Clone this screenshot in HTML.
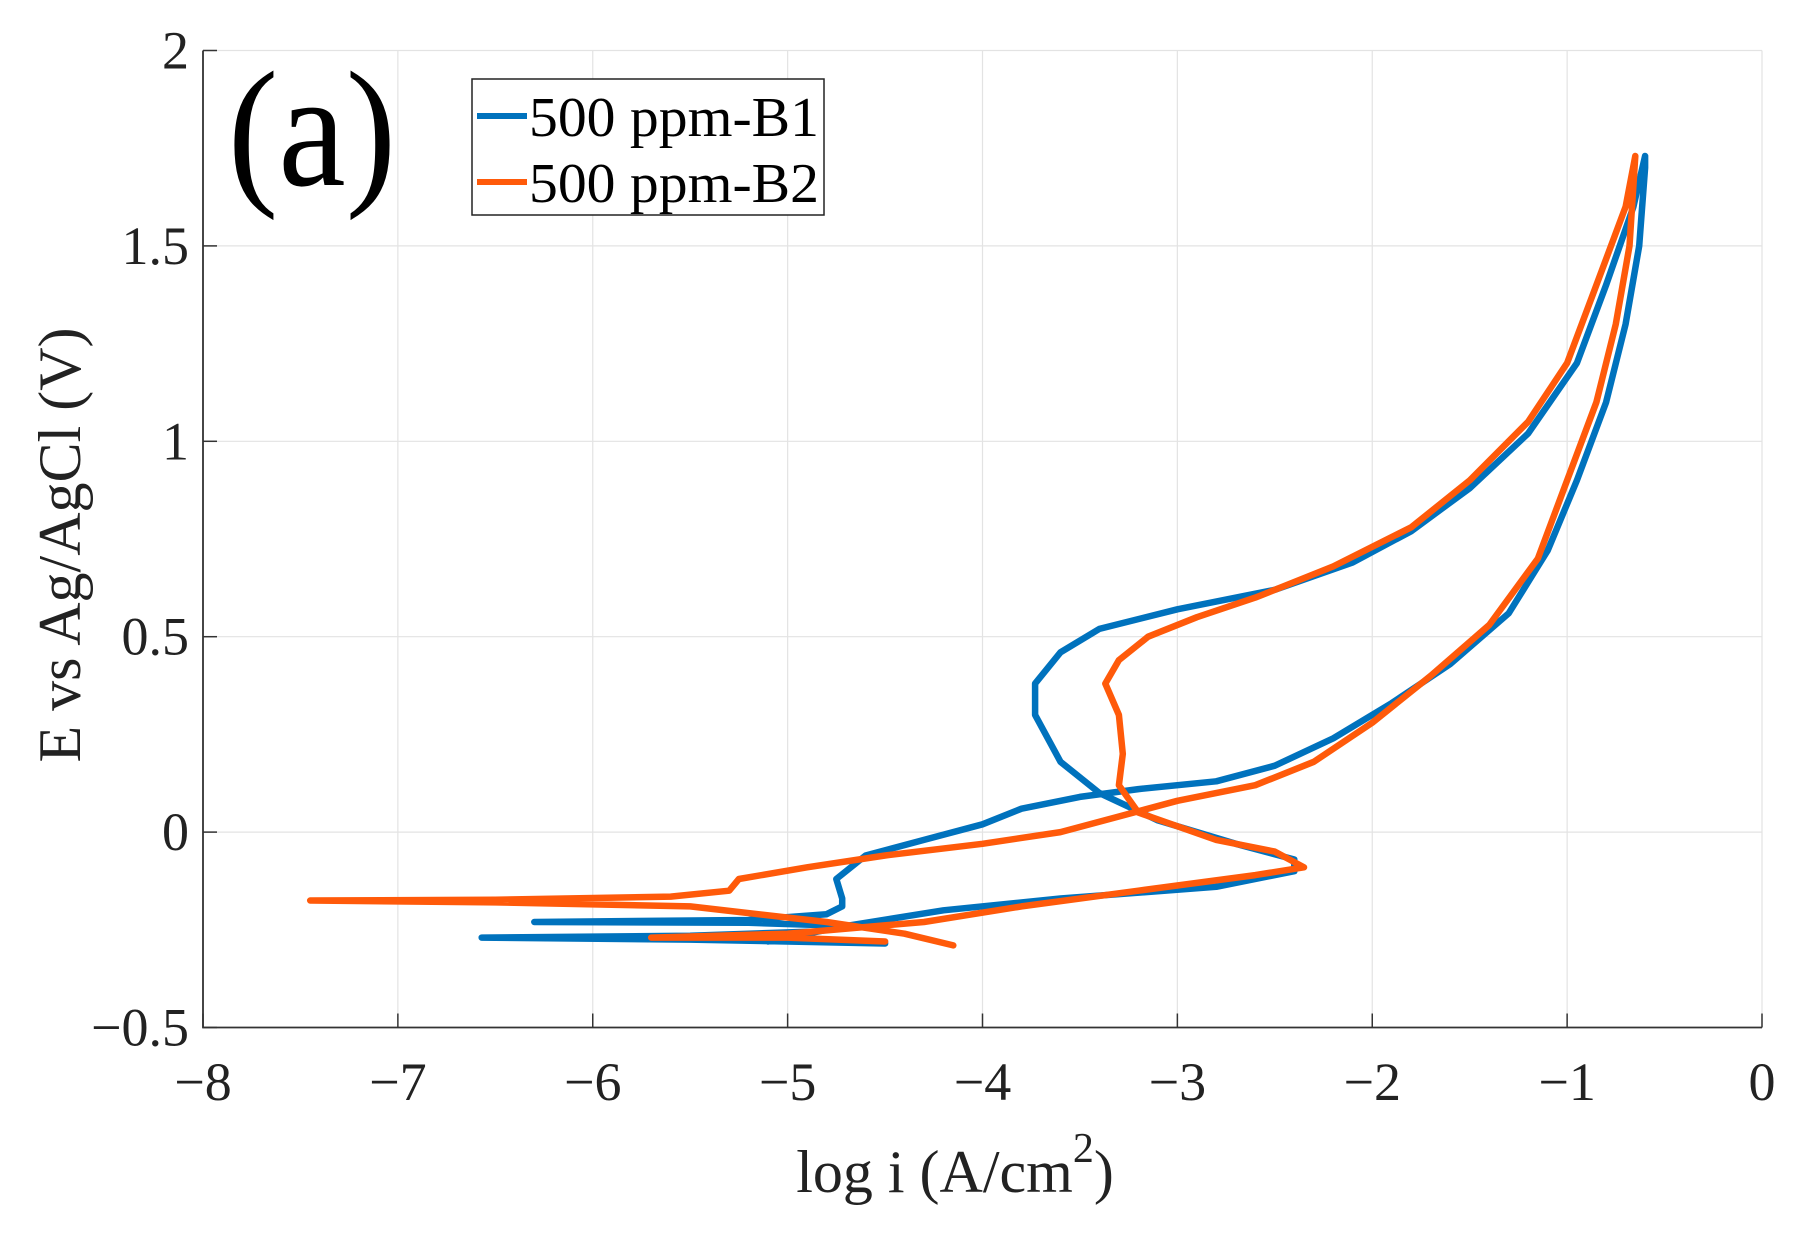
<!DOCTYPE html>
<html><head><meta charset="utf-8"><style>
html,body{margin:0;padding:0;background:#fff;}
svg{display:block;font-family:"Liberation Serif",serif;}
</style></head><body>
<svg id="chart" width="1800" height="1236" viewBox="0 0 1800 1236">
<g id="grid"></g>
<g id="series"></g>
<g id="axes"></g>
<text x="312" y="185" font-size="165" text-anchor="middle" fill="#000" transform="translate(312,0) scale(0.92,1) translate(-312,0)">(a)</text>
<g>
<rect x="472" y="79" width="352" height="136" fill="#fff" stroke="#222" stroke-width="1.5"/>
<line x1="477" y1="116" x2="527" y2="116" stroke="#0072BD" stroke-width="6"/>
<text x="529" y="136" font-size="56" fill="#000" textLength="290" lengthAdjust="spacingAndGlyphs">500 ppm-B1</text>
<line x1="477" y1="182" x2="527" y2="182" stroke="#FF5a0a" stroke-width="6"/>
<text x="529" y="202" font-size="56" fill="#000" textLength="290" lengthAdjust="spacingAndGlyphs">500 ppm-B2</text>
</g>
<text x="955" y="1192" font-size="60" text-anchor="middle" fill="#222">log i (A/cm<tspan font-size="42" dy="-30">2</tspan><tspan dy="30">)</tspan></text>
<text transform="translate(80,545) rotate(-90)" font-size="60" text-anchor="middle" fill="#222">E vs Ag/AgCl (V)</text>
</svg>
<script>
const xTicks=[-8,-7,-6,-5,-4,-3,-2,-1,0];
const yTicks=[-0.5,0,0.5,1,1.5,2];
const xTickLabels=["\u22128","\u22127","\u22126","\u22125","\u22124","\u22123","\u22122","\u22121","0"];
const yTickLabels=["\u22120.5","0","0.5","1","1.5","2"];
const b1LogI=[-4.5,-5.5,-6.57,-5.5,-4.9,-4.7,-5.2,-6.3,-5.2,-4.8,-4.72,-4.72,-4.75,-4.6,-4.3,-4.0,-3.8,-3.5,-3.2,-2.8,-2.5,-2.2,-1.9,-1.6,-1.3,-1.1,-0.95,-0.8,-0.7,-0.63,-0.6,-0.6,-0.66,-0.8,-0.95,-1.2,-1.5,-1.8,-2.1,-2.5,-3.0,-3.4,-3.6,-3.73,-3.73,-3.6,-3.4,-3.1,-2.7,-2.4,-2.4,-2.8,-3.6,-4.2,-4.7,-5.0,-5.1];
const b1E=[-0.285,-0.275,-0.27,-0.265,-0.255,-0.24,-0.232,-0.23,-0.225,-0.21,-0.19,-0.17,-0.12,-0.06,-0.02,0.02,0.06,0.09,0.11,0.13,0.17,0.24,0.33,0.43,0.56,0.72,0.9,1.1,1.3,1.5,1.7,1.73,1.6,1.4,1.2,1.02,0.88,0.77,0.69,0.62,0.57,0.52,0.46,0.38,0.3,0.18,0.1,0.03,-0.03,-0.07,-0.1,-0.14,-0.17,-0.2,-0.24,-0.27,-0.28];
const b2LogI=[-4.15,-4.4,-4.8,-5.5,-6.5,-7.45,-6.5,-5.6,-5.3,-5.25,-4.9,-4.5,-4.0,-3.6,-3.3,-3.0,-2.6,-2.3,-2.0,-1.7,-1.4,-1.15,-1.0,-0.85,-0.75,-0.68,-0.65,-0.7,-0.85,-1.0,-1.2,-1.5,-1.8,-2.2,-2.6,-2.9,-3.15,-3.3,-3.37,-3.3,-3.28,-3.3,-3.2,-2.8,-2.5,-2.35,-2.6,-3.2,-3.8,-4.3,-5.0,-5.7,-5.0,-4.5];
const b2E=[-0.29,-0.26,-0.23,-0.19,-0.18,-0.175,-0.173,-0.165,-0.15,-0.12,-0.09,-0.06,-0.03,0.0,0.04,0.08,0.12,0.18,0.28,0.4,0.53,0.7,0.9,1.1,1.3,1.5,1.73,1.6,1.4,1.2,1.05,0.9,0.78,0.68,0.6,0.55,0.5,0.44,0.38,0.3,0.2,0.12,0.05,-0.02,-0.05,-0.09,-0.11,-0.15,-0.19,-0.23,-0.26,-0.27,-0.27,-0.28];
const L=203,R=1762,T=50.5,B=1027.5;
const xs=v=>L+(v+8)/8*(R-L);
const ys=v=>B-(v+0.5)/2.5*(B-T);
const NS="http://www.w3.org/2000/svg";
function mk(tag,attrs,parent){const e=document.createElementNS(NS,tag);for(const k in attrs)e.setAttribute(k,attrs[k]);parent.appendChild(e);return e;}
const grid=document.getElementById('grid'),axes=document.getElementById('axes'),series=document.getElementById('series');
xTicks.forEach((t,i)=>{
  const g=mk('line',{x1:xs(t),x2:xs(t),y1:T,y2:B,stroke:'#e3e3e3','stroke-width':1.2},grid);
  
  
  const tk=mk('line',{x1:xs(t),x2:xs(t),y1:B,y2:B-14,stroke:'#333','stroke-width':1.5},axes);
  
  
  const tx=mk('text',{x:xs(t),y:1100,'font-size':54,'text-anchor':'middle',fill:'#222'},axes);
  tx.textContent=xTickLabels[i];
  
  
});
yTicks.forEach((t,i)=>{
  const g=mk('line',{x1:L,x2:R,y1:ys(t),y2:ys(t),stroke:'#e3e3e3','stroke-width':1.2},grid);
  
  
  const tk=mk('line',{x1:L,x2:L+14,y1:ys(t),y2:ys(t),stroke:'#333','stroke-width':1.5},axes);
  
  
  const tx=mk('text',{x:L-14,y:ys(t)+18,'font-size':54,'text-anchor':'end',fill:'#222'},axes);
  tx.textContent=yTickLabels[i];
  
  
});
const ax=mk('path',{d:`M${L},${T} L${L},${B} L${R},${B}`,fill:'none',stroke:'#333','stroke-width':1.8},axes);


function drawSeries(xv,yv,color,name){
  const d=xv.map((v,i)=>(i?'L':'M')+xs(v).toFixed(1)+','+ys(yv[i]).toFixed(1)).join(' ');
  const p=mk('path',{d:d,fill:'none',stroke:color,'stroke-width':6.5,'stroke-linejoin':'round','stroke-linecap':'round'},series);
  
  
}
drawSeries(b1LogI,b1E,'#0072BD','series-b1-line');
drawSeries(b2LogI,b2E,'#FF5a0a','series-b2-line');
</script>
</body></html>
